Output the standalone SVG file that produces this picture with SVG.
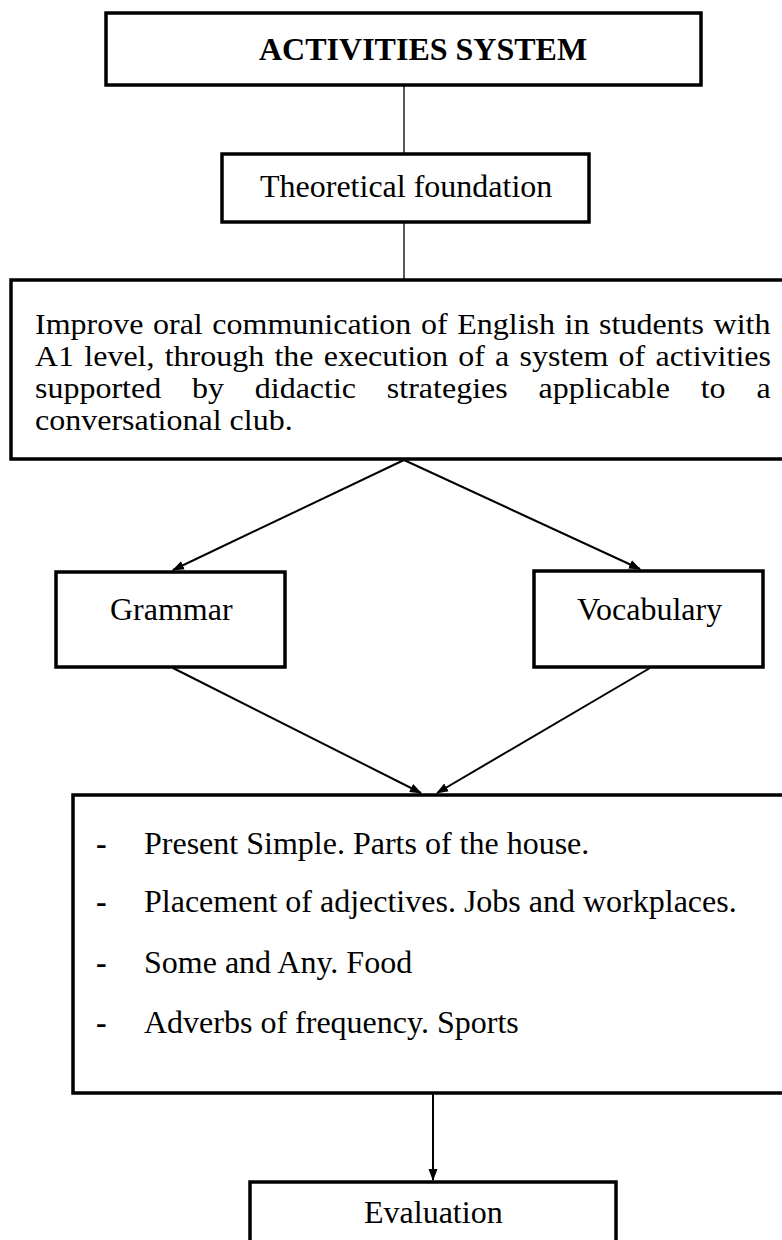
<svg xmlns="http://www.w3.org/2000/svg" width="782" height="1240" viewBox="0 0 782 1240">
<style>
.box{fill:#fff;stroke:#000;stroke-width:3.5}
.t{font-family:"Liberation Serif","Times New Roman",serif;font-size:32px;fill:#000}
.b{font-weight:bold}
.thin{stroke:#000;stroke-width:1.3;fill:none}
.arr{stroke:#000;stroke-width:2;fill:none;marker-end:url(#ah)}
</style>
<defs>
<marker id="ah" markerUnits="userSpaceOnUse" markerWidth="12" markerHeight="12" viewBox="0 0 12 12" refX="11" refY="6" orient="auto">
<path d="M0,1.5 L12,6 L0,10.5 z" fill="#000"/>
</marker>
</defs>
<rect width="782" height="1240" fill="#fff"/>
<g id="connectors">
<line class="thin" x1="404" y1="85" x2="404" y2="154"/>
<line class="thin" x1="404" y1="222" x2="404" y2="280"/>
<line class="arr" x1="404" y1="460" x2="173" y2="570"/>
<line class="arr" x1="404" y1="460" x2="640" y2="569"/>
<line class="arr" x1="173" y1="668" x2="421" y2="793"/>
<line class="arr" x1="650" y1="668" x2="437" y2="793"/>
<line class="arr" x1="433" y1="1094" x2="433" y2="1180"/>
</g>
<g id="node-activities">
<rect class="box" x="106" y="13" width="595" height="72"/>
<text class="t b" x="259" y="60">ACTIVITIES SYSTEM</text>
</g>
<g id="node-theoretical">
<rect class="box" x="222" y="154" width="367" height="68"/>
<text class="t" x="260" y="197">Theoretical foundation</text>
</g>
<g id="node-objective">
<rect class="box" x="11" y="280" width="790" height="179"/>
<text class="t" transform="translate(35 334) scale(1 0.9)" word-spacing="1.6">Improve oral communication of English in students with</text>
<text class="t" transform="translate(35 366) scale(1 0.9)" word-spacing="2.2">A1 level, through the execution of a system of activities</text>
<text class="t" transform="translate(35 398) scale(1 0.9)" word-spacing="22.8">supported by didactic strategies applicable to a</text>
<text class="t" transform="translate(35 430) scale(1 0.9)">conversational club.</text>
</g>
<g id="node-grammar">
<rect class="box" x="56" y="572" width="229" height="95"/>
<text class="t" x="110" y="620">Grammar</text>
</g>
<g id="node-vocabulary">
<rect class="box" x="534" y="571" width="229" height="96"/>
<text class="t" x="577" y="620">Vocabulary</text>
</g>
<g id="node-contents">
<rect class="box" x="73" y="795" width="730" height="298"/>
<text class="t b" x="96" y="854">-</text>
<text class="t" x="144" y="854">Present Simple. Parts of the house.</text>
<text class="t b" x="96" y="912">-</text>
<text class="t" x="144" y="912">Placement of adjectives. Jobs and workplaces.</text>
<text class="t b" x="96" y="973">-</text>
<text class="t" x="144" y="973">Some and Any. Food</text>
<text class="t b" x="96" y="1033">-</text>
<text class="t" x="144" y="1033">Adverbs of frequency. Sports</text>
</g>
<g id="node-evaluation">
<rect class="box" x="250" y="1182" width="366" height="80"/>
<text class="t" x="364" y="1223">Evaluation</text>
</g>
</svg>
